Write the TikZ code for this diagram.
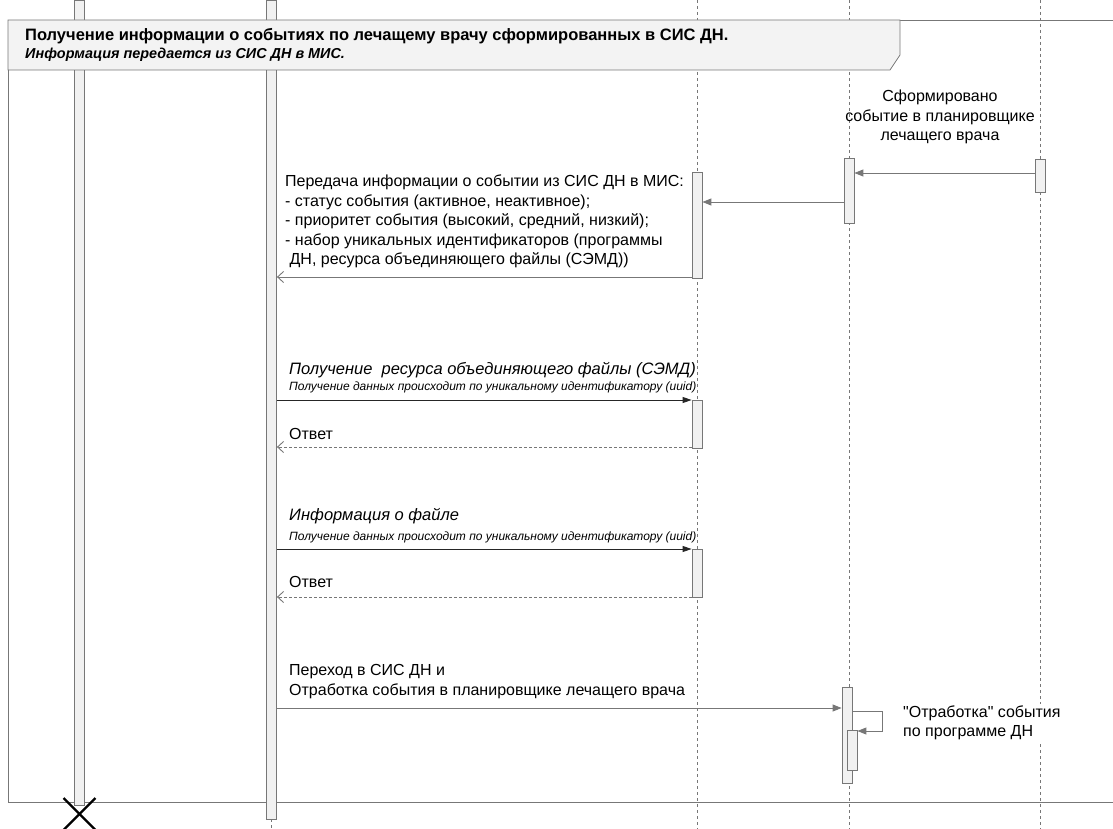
\documentclass[tikz,border=0pt]{standalone}
\usepackage{fontspec}
\setmainfont{Liberation Sans}[Ligatures=TeXOff]
\usetikzlibrary{arrows.meta}
\definecolor{lineGray}{HTML}{777777}
\definecolor{barFill}{HTML}{F1F1F1}
\definecolor{hdrFill}{HTML}{F3F3F3}
\tikzset{
  act/.style={
    draw=lineGray,
    fill=barFill,
    line width=0.8pt,
    minimum width=10pt,
    inner sep=0pt
  },
  life/.style={
    draw=lineGray,
    line width=0.7pt,
    dash pattern=on 3pt off 3pt
  },
  call msg/.style={
    draw=lineGray,
    line width=0.9pt,
    -{Triangle[length=9pt,width=7pt]}
  },
  sync msg/.style={
    draw=black!85,
    line width=0.9pt,
    -{Triangle[length=9pt,width=6pt]}
  },
  back msg/.style={
    draw=lineGray,
    line width=0.9pt,
    -{Straight Barb[length=6pt,width=11pt]}
  },
  reply msg/.style={
    back msg,
    dash pattern=on 3pt off 2pt
  },
  frame line/.style={
    draw=lineGray,
    line width=0.8pt
  },
  msg text/.style={
    font=\fontsize{16}{19.5}\selectfont,
    inner sep=0pt
  },
  msg title/.style={
    font=\fontsize{16.5}{19.5}\selectfont\itshape,
    inner sep=0pt
  },
  msg note/.style={
    font=\fontsize{12}{14}\selectfont\itshape,
    inner sep=0pt
  }
}

\begin{document}
\begin{tikzpicture}[x=1pt, y=-1pt]
    \useasboundingbox (0,0) rectangle (1113,829);

    % рамка фрагмента
    \draw[frame line] (1113,20) -- (8,20) -- (8,802) -- (1113,802);

    % линии жизни
    \draw[life] (697,0) -- (697,829);
    \draw[life] (849,0) -- (849,829);
    \draw[life] (1040,0) -- (1040,829);
    \draw[life] (271.5,819) -- (271.5,829);

    % сплошные активации слева
    \node[act, minimum height=805pt] (l1) at (79,402.5) {};
    \node[act, minimum height=819pt] (l2) at (271.5,409.5) {};
    \draw[line width=2.2pt] (63.5,798) -- (95.5,830);
    \draw[line width=2.2pt] (95.5,798) -- (63.5,830);

    % заголовок фрагмента
    \draw[frame line, fill=hdrFill] (8,20) -- (900,20) -- (900,55) -- (890,70) -- (8,70) -- cycle;
    \node[anchor=west, inner sep=0pt, font=\fontsize{16.5}{19}\selectfont\bfseries] (ttl) at (25,36)
      {Получение информации о событиях по лечащему врачу сформированных в СИС ДН.};
    \node[anchor=west, inner sep=0pt, font=\fontsize{14.4}{16}\selectfont\bfseries\itshape] (sub) at (25,55)
      {Информация передается из СИС ДН в МИС.};

    % активации
    \node[act, minimum height=33pt] (a5) at (1040,175.5) {};
    \node[act, minimum height=65pt] (a4) at (849,190.5) {};
    \node[act, minimum height=106pt] (a3) at (697,225) {};
    \node[act, minimum height=48pt] (b3) at (697,424) {};
    \node[act, minimum height=48pt] (c3) at (697,573) {};
    \node[act, minimum height=96pt] (d4) at (847,735.5) {};
    \node[act, minimum height=40pt] (e4) at (852,750) {};

    % уровни сообщений
    \coordinate (r1) at (0,173);
    \coordinate (r2) at (0,202);
    \coordinate (r3) at (0,277);
    \coordinate (r4) at (0,400);
    \coordinate (r5) at (0,447);
    \coordinate (r6) at (0,549);
    \coordinate (r7) at (0,597);
    \coordinate (r8) at (0,708);
    \coordinate (sl1) at (882,711);
    \coordinate (sl2) at (882,731);

    \node[msg text, align=center] (evt) at (940,117)
      {Сформировано\\событие в планировщике\\лечащего врача};
    \draw[call msg] (a5.west |- r1) -- (a4.east |- r1);
    \draw[call msg] (a4.west |- r2) -- (a3.east |- r2);

    \node[msg text, align=left, anchor=north west] (info) at (285,175)
      {Передача информации о событии из СИС ДН в МИС:\\
       - статус события (активное, неактивное);\\
       - приоритет события (высокий, средний, низкий);\\
       - набор уникальных идентификаторов (программы\\
       \ ДН, ресурса объединяющего файлы (СЭМД))};
    \draw[back msg] (a3.west |- r3) -- (l2.east |- r3);

    \node[msg title, anchor=west] (semd) at (289,370)
      {Получение\ \ ресурса объединяющего файлы (СЭМД)};
    \node[msg note, anchor=west] (uuid1) at (289,387)
      {Получение данных происходит по уникальному идентификатору (uuid)};
    \draw[sync msg] (l2.east |- r4) -- (b3.west |- r4);
    \node[msg text, anchor=west] (ans1) at (289,434) {Ответ};
    \draw[reply msg] (b3.west |- r5) -- (l2.east |- r5);

    \node[msg title, anchor=west] (file) at (289,516)
      {Информация о файле};
    \node[msg note, anchor=west] (uuid2) at (289,537)
      {Получение данных происходит по уникальному идентификатору (uuid)};
    \draw[sync msg] (l2.east |- r6) -- (c3.west |- r6);
    \node[msg text, anchor=west] (ans2) at (289,582) {Ответ};
    \draw[reply msg] (c3.west |- r7) -- (l2.east |- r7);

    \node[msg text, align=left, anchor=south west] (go) at (289,699)
      {Переход в СИС ДН и\\Отработка события в планировщике лечащего врача};
    \draw[call msg] (l2.east |- r8) -- (d4.west |- r8);

    % самовызов
    \draw[call msg] (d4.east |- sl1) -- (sl1) -- (sl2) -- (e4.east |- sl2);
    \node[msg text, align=left, anchor=west, fill=white, inner sep=2pt] (work) at (901,723)
      {"Отработка" события\\по программе ДН};
\end{tikzpicture}
\end{document}
